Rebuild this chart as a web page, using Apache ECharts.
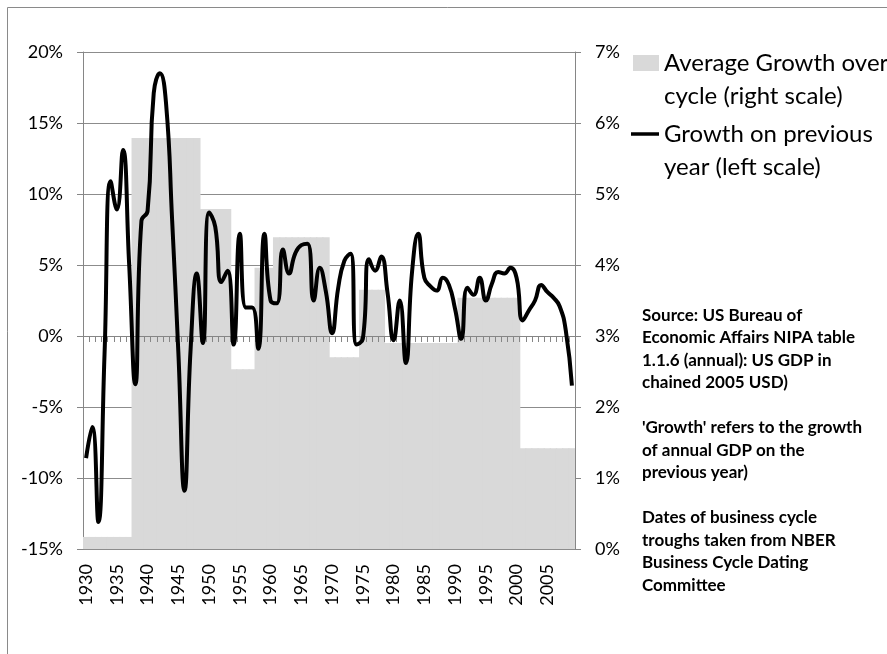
<!DOCTYPE html>
<html><head><meta charset="utf-8">
<script src="https://cdn.jsdelivr.net/npm/echarts@6/dist/echarts.min.js"></script>
<style>html,body{margin:0;padding:0;background:#fff}#c{width:887px;height:654px}</style>
</head><body><div id="c"></div>
<script>
// Categories: years 1930..2009
const firstYear = 1930, lastYear = 2009;
const years = [];
for (let y = firstYear; y <= lastYear; y++) years.push(String(y));

// Growth on previous year (%), left scale
const growth = [
  -8.6, -6.4, -13.1, -1.3, 10.9, 8.9, 13.1, 5.1, -3.4, 8.1,   // 1930-1939
  8.8, 17.1, 18.5, 16.4, 8.1, -1.1, -10.9, -0.9, 4.4, -0.5,    // 1940-1949
  8.7, 7.7, 3.8, 4.6, -0.6, 7.2, 2.0, 2.0, -0.9, 7.2,          // 1950-1959
  2.5, 2.3, 6.1, 4.4, 5.8, 6.4, 6.5, 2.5, 4.8, 3.1,            // 1960-1969
  0.2, 3.4, 5.3, 5.8, -0.6, -0.2, 5.4, 4.6, 5.6, 3.1,          // 1970-1979
  -0.3, 2.5, -1.9, 4.5, 7.2, 4.1, 3.5, 3.2, 4.1, 3.6,          // 1980-1989
  1.9, -0.2, 3.4, 2.9, 4.1, 2.5, 3.7, 4.5, 4.4, 4.8,           // 1990-1999
  4.1, 1.1, 1.8, 2.5, 3.6, 3.1, 2.7, 2.1, 0.4, -3.5            // 2000-2009
];

// Business cycles (start year) and average growth over each cycle (%), right scale
const cycleStart = [1930, 1938, 1949, 1954, 1958, 1961, 1970, 1975, 1979, 1991, 2001];
const cycleAvg   = [0.17, 5.79, 4.79, 2.53, 3.96, 4.39, 2.70, 3.65, 2.90, 3.54, 1.42];

// Tick settings
const leftTicks = { min: -15, max: 20, step: 5 };
const rightTicks = { min: 0, max: 7, step: 1 };

const legendBar = 'Average Growth over\ncycle (right scale)';
const legendLine = 'Growth on previous\nyear (left scale)';
const notes = "Source: US Bureau of\nEconomic Affairs NIPA table\n1.1.6 (annual): US GDP in\nchained 2005 USD)\n\n'Growth' refers to the growth\nof annual GDP on the\nprevious year)\n\nDates of business cycle\ntroughs taken from NBER\nBusiness Cycle Dating\nCommittee";

// per-year cycle value lookup (which cycle each year belongs to)
const barData = years.map(ys => {
  const y = +ys; let idx = 0;
  for (let i = 0; i < cycleStart.length; i++) if (y >= cycleStart[i]) idx = i;
  return cycleAvg[idx];
});

const FONT = 'Lato';
const axisColor = '#868686';
const chart = echarts.init(document.getElementById('c'));
chart.setOption({
  animation: false,
  backgroundColor: '#fff',
  grid: { left: 83, right: 312, top: 52, bottom: 105, containLabel: false },
  title: {
    text: notes, left: 642, top: 304, padding: 0,
    textStyle: { fontFamily: FONT, fontWeight: 'bold', fontSize: 17, lineHeight: 22.5, color: '#000' }
  },
  legend: [
    {
      data: [{ name: legendBar, icon: 'rect' }],
      left: 633, top: 13.5, padding: 0, itemWidth: 26, itemHeight: 16,
      formatter: n => '\n' + n,
      textStyle: { fontFamily: FONT, fontSize: 24, lineHeight: 33, color: '#000' }
    },
    {
      data: [{ name: legendLine, icon: 'rect' }],
      left: 631, top: 84.5, padding: 0, itemWidth: 28, itemHeight: 3.5,
      formatter: n => '\n' + n,
      textStyle: { fontFamily: FONT, fontSize: 24, lineHeight: 33, color: '#000' }
    }
  ],
  xAxis: [
    {
      type: 'category', data: years, position: 'bottom', z: 3,
      axisLine: { show: true, onZero: true, onZeroAxisIndex: 0, lineStyle: { color: axisColor, width: 1 } },
      axisTick: { show: true, interval: 0, length: 6, lineStyle: { color: axisColor } },
      axisLabel: { show: false },
      splitLine: { show: false }
    },
    {
      type: 'category', data: years, position: 'bottom',
      axisLine: { show: false, onZero: false },
      axisTick: { show: false },
      axisLabel: { interval: 4, rotate: 90, margin: 15, fontSize: 18, fontFamily: FONT, color: '#000' },
      splitLine: { show: false }
    }
  ],
  yAxis: [
    {
      type: 'value', position: 'left', min: leftTicks.min, max: leftTicks.max, interval: leftTicks.step,
      axisLine: { show: true, lineStyle: { color: axisColor } },
      axisTick: { show: true, length: 6, lineStyle: { color: axisColor } },
      axisLabel: { formatter: '{value}%', margin: 20, fontSize: 18, fontFamily: FONT, color: '#000' },
      splitLine: { show: true, lineStyle: { color: '#8c8c8c', width: 1 } }
    },
    {
      type: 'value', position: 'right', min: rightTicks.min, max: rightTicks.max, interval: rightTicks.step,
      axisLine: { show: true, lineStyle: { color: axisColor } },
      axisTick: { show: true, length: 6, lineStyle: { color: axisColor } },
      axisLabel: { formatter: '{value}%', margin: 20, fontSize: 18, fontFamily: FONT, color: '#000' },
      splitLine: { show: false }
    }
  ],
  series: [
    {
      name: legendBar, type: 'bar', xAxisIndex: 0, yAxisIndex: 1, data: barData,
      barWidth: 7.5, clip: true, z: 2,
      itemStyle: { color: '#d9d9d9' }
    },
    {
      name: legendLine, type: 'line', xAxisIndex: 0, yAxisIndex: 0, data: growth,
      smooth: 0.5, showSymbol: false, z: 4,
      lineStyle: { color: '#000', width: 4 }, itemStyle: { color: '#000' }
    }
  ],
  graphic: [
    { type: 'rect', silent: true, z: 0, shape: { x: 7.5, y: 7.5, width: 1000, height: 1000 },
      style: { fill: null, stroke: '#8a8a8a', lineWidth: 1 } }
  ]
});
</script></body></html>
